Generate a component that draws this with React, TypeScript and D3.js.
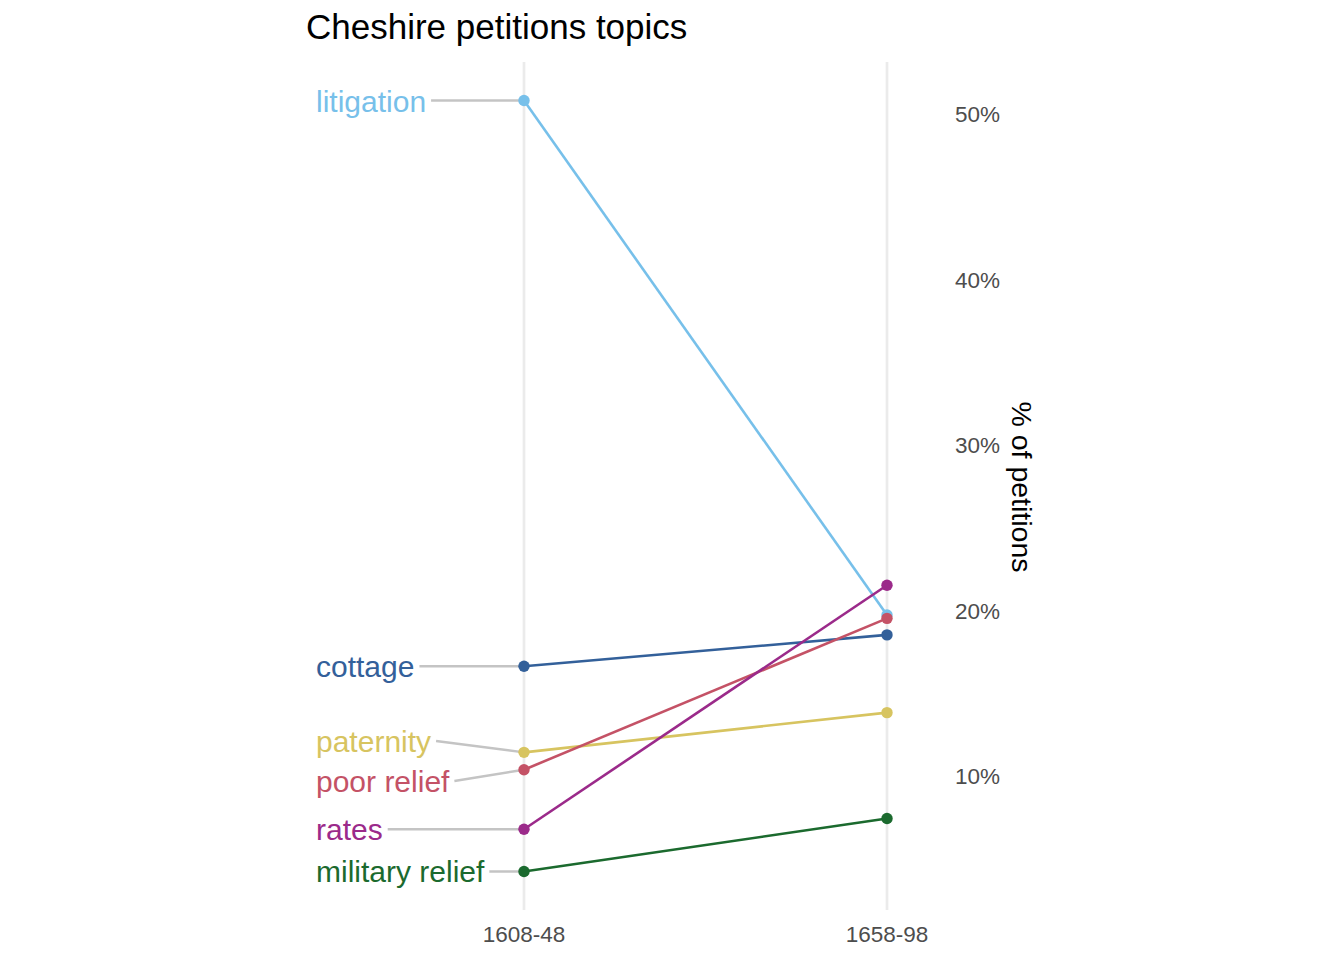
import React, { useEffect, useRef } from "react";
import * as d3 from "d3";

// values (% of petitions)
const periods = ["1608-48", "1658-98"];
const topics = ["litigation", "cottage", "paternity", "poor relief", "rates", "military relief"];
const share1608 = [50.9, 16.7, 11.5, 10.45, 6.85, 4.3];
const share1658 = [19.8, 18.6, 13.9, 19.6, 21.6, 7.5];
const topicColors = ["#77C0EA", "#33609A", "#D7C460", "#C45266", "#9B2A8A", "#1B6A2E"];
const yTicks = [10, 20, 30, 40, 50];

const FONT = "'Liberation Sans', Arial, Helvetica, sans-serif";

const App: React.FC = () => {
  const svgRef = useRef<SVGSVGElement>(null);

  useEffect(() => {
    document.body.style.margin = "0";
    const width = 1344;
    const height = 960;
    const svg = d3.select(svgRef.current).attr("width", width).attr("height", height);
    svg.selectAll("*").remove();

    // panel
    const top = 62;
    const bottom = 910;

    const all = [...share1608, ...share1658];
    const lo = d3.min(all)!;
    const hi = d3.max(all)!;
    const pad = (hi - lo) * 0.05;
    const y = d3.scaleLinear().domain([lo - pad, hi + pad]).range([bottom, top]);
    const x = d3.scalePoint<string>().domain(periods).range([524, 887]);

    // title
    svg
      .append("text")
      .attr("x", 306)
      .attr("y", 39)
      .attr("font-family", FONT)
      .attr("font-size", 35)
      .attr("fill", "#000")
      .text("Cheshire petitions topics");

    // vertical grid
    svg
      .selectAll("line.grid")
      .data(periods)
      .enter()
      .append("line")
      .attr("class", "grid")
      .attr("x1", (d) => x(d)!)
      .attr("x2", (d) => x(d)!)
      .attr("y1", top)
      .attr("y2", bottom)
      .attr("stroke", "#ebebeb")
      .attr("stroke-width", 2.7);

    // x tick labels
    svg
      .selectAll("text.xtick")
      .data(periods)
      .enter()
      .append("text")
      .attr("class", "xtick")
      .attr("x", (d) => x(d)!)
      .attr("y", 942)
      .attr("text-anchor", "middle")
      .attr("font-family", FONT)
      .attr("font-size", 22.5)
      .attr("fill", "#4d4d4d")
      .text((d) => d);

    // right y tick labels
    svg
      .selectAll("text.ytick")
      .data(yTicks)
      .enter()
      .append("text")
      .attr("class", "ytick")
      .attr("x", 955)
      .attr("y", (d) => y(d) + 7)
      .attr("font-family", FONT)
      .attr("font-size", 22.5)
      .attr("fill", "#4d4d4d")
      .text((d) => `${d}%`);

    // axis title
    svg
      .append("text")
      .attr("transform", `translate(1012,${(top + bottom) / 2 + 1}) rotate(90)`)
      .attr("text-anchor", "middle")
      .attr("font-family", FONT)
      .attr("font-size", 28.5)
      .attr("fill", "#000")
      .text("% of petitions");

    // simple 1D repel of the left labels
    const minGap = 40;
    const labelY = share1608.map((v) => y(v));
    const order = d3.range(topics.length).sort((a, b) => labelY[a] - labelY[b]);
    for (let iter = 0; iter < 200; iter++) {
      let moved = false;
      for (let k = 1; k < order.length; k++) {
        const a = order[k - 1];
        const b = order[k];
        const gap = labelY[b] - labelY[a];
        if (gap < minGap) {
          const shift = (minGap - gap) / 2;
          labelY[a] -= shift;
          labelY[b] += shift;
          moved = true;
        }
      }
      if (!moved) break;
    }

    const labelX = 316;
    const segG = svg.append("g");
    const lineG = svg.append("g");
    const pointG = svg.append("g");
    const labelG = svg.append("g");

    const labels = labelG
      .selectAll("text")
      .data(topics)
      .enter()
      .append("text")
      .attr("x", labelX)
      .attr("y", (_, i) => labelY[i] + 11)
      .attr("font-family", FONT)
      .attr("font-size", 30)
      .attr("fill", (_, i) => topicColors[i])
      .text((d) => d);

    labels.each(function (_, i) {
      const w = (this as SVGTextElement).getComputedTextLength();
      segG
        .append("line")
        .attr("x1", labelX + w + 5)
        .attr("y1", labelY[i])
        .attr("x2", x(periods[0])!)
        .attr("y2", y(share1608[i]))
        .attr("stroke", "#c4c4c4")
        .attr("stroke-width", 2.4);
    });

    // slope lines
    topics.forEach((t, i) => {
      lineG
        .append("line")
        .attr("x1", x(periods[0])!)
        .attr("y1", y(share1608[i]))
        .attr("x2", x(periods[1])!)
        .attr("y2", y(share1658[i]))
        .attr("stroke", topicColors[i])
        .attr("stroke-width", 2.6);
    });

    // points
    const pts = topics.flatMap((t, i) => [
      { p: periods[0], v: share1608[i], c: topicColors[i] },
      { p: periods[1], v: share1658[i], c: topicColors[i] },
    ]);
    pointG
      .selectAll("circle")
      .data(pts)
      .enter()
      .append("circle")
      .attr("cx", (d) => x(d.p)!)
      .attr("cy", (d) => y(d.v))
      .attr("r", 5.7)
      .attr("fill", (d) => d.c);
  }, []);

  return <svg ref={svgRef} style={{ display: "block" }}></svg>;
};

export default App;
